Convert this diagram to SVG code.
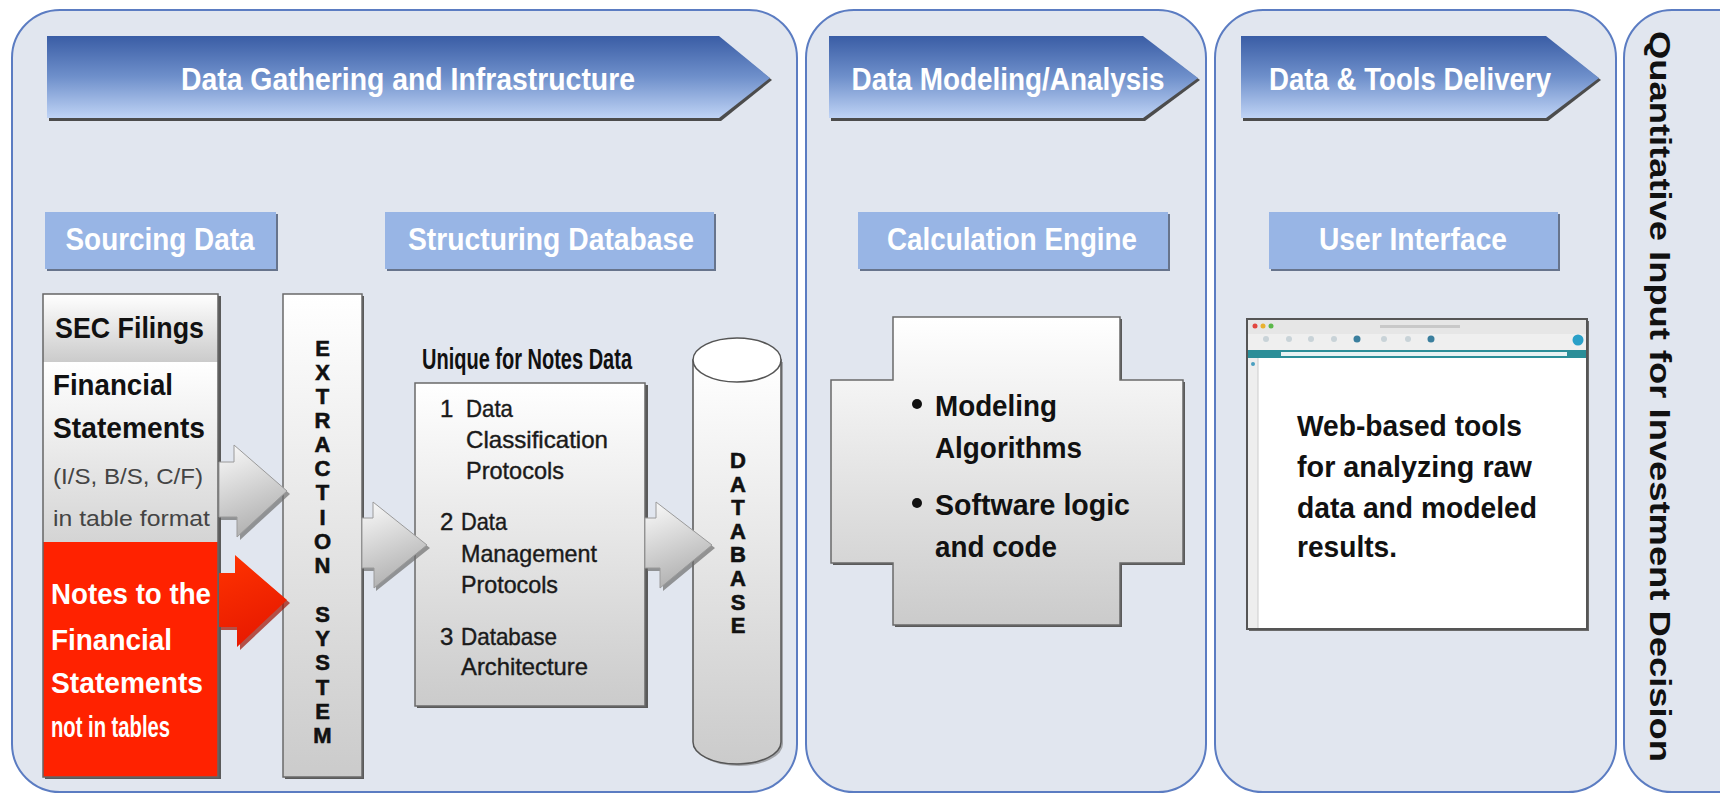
<svg xmlns="http://www.w3.org/2000/svg" width="1720" height="796" viewBox="0 0 1720 796">
<defs>
  <linearGradient id="gBanner" x1="0" y1="0" x2="0" y2="1">
    <stop offset="0" stop-color="#3a5da5"/>
    <stop offset="0.5" stop-color="#6f90cb"/>
    <stop offset="1" stop-color="#bfd3f5"/>
  </linearGradient>
  <linearGradient id="gGray" x1="0" y1="0" x2="0" y2="1">
    <stop offset="0" stop-color="#ffffff"/>
    <stop offset="1" stop-color="#cbcbcb"/>
  </linearGradient>
  <linearGradient id="gGrayS" x1="0" y1="0" x2="0" y2="1">
    <stop offset="0" stop-color="#ffffff"/>
    <stop offset="1" stop-color="#d4d4d4"/>
  </linearGradient>
  <linearGradient id="gArrow" x1="0" y1="0" x2="0.3" y2="1">
    <stop offset="0" stop-color="#fbfbfb"/>
    <stop offset="1" stop-color="#b2b2b2"/>
  </linearGradient>
  <linearGradient id="gRed" x1="0" y1="0" x2="0.3" y2="1">
    <stop offset="0" stop-color="#ff3300"/>
    <stop offset="1" stop-color="#e81a00"/>
  </linearGradient>
</defs>
<style>
  .panel{fill:#e1e6ef;stroke:#5b7cc2;stroke-width:2}
  .banner{fill:url(#gBanner)}
  .bsh{fill:#4c4c4c}
  .sub{fill:#98b5e5}
  .subsh{fill:#67748c}
  .box{fill:url(#gGray);stroke:#6a6a6a;stroke-width:1.5}
  .sh{fill:#5a5a5a}
  .wt{font-family:"Liberation Sans Narrow","Liberation Sans",Arial,sans-serif;font-weight:bold;fill:#ffffff;font-size:31px}
  .bk{font-family:"Liberation Sans",Arial,sans-serif;font-weight:bold;fill:#111111;font-size:30px}
  .rg{font-family:"Liberation Sans",Arial,sans-serif;fill:#1a1a1a;font-size:24px;stroke:#1a1a1a;stroke-width:0.4}
  .sm{font-family:"Liberation Sans",Arial,sans-serif;fill:#444444;font-size:22px}
  .wb{font-family:"Liberation Sans",Arial,sans-serif;font-weight:bold;fill:#ffffff;font-size:30px}
  .vl{font-family:"Liberation Sans",Arial,sans-serif;font-weight:bold;fill:#111111;font-size:22px;text-anchor:middle;stroke:#111111;stroke-width:0.6}
  .arr{fill:url(#gArrow);stroke:#9a9a9a;stroke-width:1}
  .arrsh{fill:#6e6e6e;opacity:0.7}
</style>

<g id="panels">
  <rect class="panel" x="12" y="10" width="785" height="782" rx="48"/>
  <rect class="panel" x="806" y="10" width="400" height="782" rx="48"/>
  <rect class="panel" x="1215" y="10" width="401" height="782" rx="48"/>
  <rect class="panel" x="1624" y="10" width="150" height="782" rx="48"/>
</g>

<g id="banner-gathering">
  <polygon class="bsh" points="49,39 721,39 772,80 721,121 49,121"/>
  <polygon class="banner" points="47,36 719,36 770,78 719,118 47,118"/>
  <text class="wt" x="408" y="90" text-anchor="middle" textLength="454" lengthAdjust="spacingAndGlyphs">Data Gathering and Infrastructure</text>
</g>
<g id="banner-modeling">
  <polygon class="bsh" points="831,39 1145,39 1200,80 1145,121 831,121"/>
  <polygon class="banner" points="829,36 1143,36 1198,78 1143,118 829,118"/>
  <text class="wt" x="1008" y="90" text-anchor="middle" textLength="313" lengthAdjust="spacingAndGlyphs">Data Modeling/Analysis</text>
</g>
<g id="banner-delivery">
  <polygon class="bsh" points="1243,39 1548,39 1601,80 1548,121 1243,121"/>
  <polygon class="banner" points="1241,36 1546,36 1599,78 1546,118 1241,118"/>
  <text class="wt" x="1410" y="90" text-anchor="middle" textLength="282" lengthAdjust="spacingAndGlyphs">Data &amp; Tools Delivery</text>
</g>

<g id="sub-sourcing">
  <rect class="subsh" x="47" y="214" width="231" height="57"/>
  <rect class="sub" x="45" y="212" width="231" height="57"/>
  <text class="wt" x="160" y="250" text-anchor="middle" textLength="189" lengthAdjust="spacingAndGlyphs">Sourcing Data</text>
</g>
<g id="sub-structuring">
  <rect class="subsh" x="387" y="214" width="329" height="57"/>
  <rect class="sub" x="385" y="212" width="329" height="57"/>
  <text class="wt" x="551" y="250" text-anchor="middle" textLength="286" lengthAdjust="spacingAndGlyphs">Structuring Database</text>
</g>
<g id="sub-calculation">
  <rect class="subsh" x="860" y="214" width="310" height="57"/>
  <rect class="sub" x="858" y="212" width="310" height="57"/>
  <text class="wt" x="1012" y="250" text-anchor="middle" textLength="250" lengthAdjust="spacingAndGlyphs">Calculation Engine</text>
</g>
<g id="sub-ui">
  <rect class="subsh" x="1271" y="214" width="289" height="57"/>
  <rect class="sub" x="1269" y="212" width="289" height="57"/>
  <text class="wt" x="1413" y="250" text-anchor="middle" textLength="188" lengthAdjust="spacingAndGlyphs">User Interface</text>
</g>

<g id="sec-filings">
  <rect class="sh" x="45" y="296" width="176" height="483"/>
  <rect x="43" y="294" width="175" height="68" fill="url(#gGray)"/>
  <rect x="43" y="362" width="175" height="180" fill="url(#gGrayS)"/>
  <rect x="43" y="542" width="175" height="235" fill="#ff2200"/>
  <rect x="43" y="294" width="175" height="483" fill="none" stroke="#666666" stroke-width="1.5"/>
  <text class="bk" x="55" y="338" font-size="31" textLength="149" lengthAdjust="spacingAndGlyphs">SEC Filings</text>
  <text class="bk" x="53" y="395" textLength="120" lengthAdjust="spacingAndGlyphs">Financial</text>
  <text class="bk" x="53" y="438" textLength="152" lengthAdjust="spacingAndGlyphs">Statements</text>
  <text class="sm" x="53" y="484" textLength="150" lengthAdjust="spacingAndGlyphs">(I/S, B/S, C/F)</text>
  <text class="sm" x="53" y="526" textLength="157" lengthAdjust="spacingAndGlyphs">in table format</text>
  <text class="wb" x="51" y="604" textLength="160" lengthAdjust="spacingAndGlyphs">Notes to the</text>
  <text class="wb" x="51" y="650" textLength="121" lengthAdjust="spacingAndGlyphs">Financial</text>
  <text class="wb" x="51" y="693" textLength="152" lengthAdjust="spacingAndGlyphs">Statements</text>
  <text class="wb" x="51" y="737" font-size="21" textLength="119" lengthAdjust="spacingAndGlyphs">not in tables</text>
</g>

<g id="extraction-system">
  <rect class="sh" x="285" y="296" width="79" height="483"/>
  <rect class="box" x="283" y="294" width="79" height="483"/>
  <text class="vl" x="322.5" y="356">E</text>
  <text class="vl" x="322.5" y="380">X</text>
  <text class="vl" x="322.5" y="404">T</text>
  <text class="vl" x="322.5" y="428">R</text>
  <text class="vl" x="322.5" y="452">A</text>
  <text class="vl" x="322.5" y="476">C</text>
  <text class="vl" x="322.5" y="500">T</text>
  <text class="vl" x="322.5" y="525">I</text>
  <text class="vl" x="322.5" y="549">O</text>
  <text class="vl" x="322.5" y="573">N</text>
  <text class="vl" x="322.5" y="622">S</text>
  <text class="vl" x="322.5" y="646">Y</text>
  <text class="vl" x="322.5" y="670">S</text>
  <text class="vl" x="322.5" y="695">T</text>
  <text class="vl" x="322.5" y="719">E</text>
  <text class="vl" x="322.5" y="743">M</text>
</g>

<g id="notes-protocols">
  <text class="bk" x="422" y="369" font-size="22" fill="#222" textLength="210" lengthAdjust="spacingAndGlyphs">Unique for Notes Data</text>
  <rect class="sh" x="417" y="385" width="231" height="323"/>
  <rect class="box" x="415" y="383" width="230" height="323"/>
  <text class="rg" x="440" y="417">1</text>
  <text class="rg" x="466" y="417" textLength="47" lengthAdjust="spacingAndGlyphs">Data</text>
  <text class="rg" x="466" y="448" textLength="142" lengthAdjust="spacingAndGlyphs">Classification</text>
  <text class="rg" x="466" y="479" textLength="98" lengthAdjust="spacingAndGlyphs">Protocols</text>
  <text class="rg" x="440" y="530">2</text>
  <text class="rg" x="461" y="530" textLength="46" lengthAdjust="spacingAndGlyphs">Data</text>
  <text class="rg" x="461" y="562" textLength="136" lengthAdjust="spacingAndGlyphs">Management</text>
  <text class="rg" x="461" y="593" textLength="97" lengthAdjust="spacingAndGlyphs">Protocols</text>
  <text class="rg" x="440" y="645">3</text>
  <text class="rg" x="461" y="645" textLength="96" lengthAdjust="spacingAndGlyphs">Database</text>
  <text class="rg" x="461" y="675" textLength="127" lengthAdjust="spacingAndGlyphs">Architecture</text>
</g>

<g id="database">
  <path d="M695,362 L695,744 A44,22 0 0 0 783,744 L783,362 Z" fill="#7a7a7a" opacity="0.6"/>
  <path d="M693,360 L693,742 A44,22 0 0 0 781,742 L781,360 Z" fill="url(#gGray)" stroke="#555555" stroke-width="1.5"/>
  <ellipse cx="737" cy="360" rx="44" ry="22" fill="#ffffff" stroke="#555555" stroke-width="1.5"/>
  <text class="vl" x="738" y="468">D</text>
  <text class="vl" x="738" y="492">A</text>
  <text class="vl" x="738" y="515">T</text>
  <text class="vl" x="738" y="539">A</text>
  <text class="vl" x="738" y="562">B</text>
  <text class="vl" x="738" y="586">A</text>
  <text class="vl" x="738" y="610">S</text>
  <text class="vl" x="738" y="633">E</text>
</g>

<g id="calculation-engine">
  <polygon class="sh" points="895,319 1122,319 1122,382 1185,382 1185,565 1122,565 1122,627 895,627 895,565 833,565 833,382 895,382"/>
  <polygon class="box" points="893,317 1120,317 1120,380 1183,380 1183,563 1120,563 1120,625 893,625 893,563 831,563 831,380 893,380"/>
  <circle cx="917" cy="404" r="5" fill="#111"/>
  <text class="bk" x="935" y="416" textLength="122" lengthAdjust="spacingAndGlyphs">Modeling</text>
  <text class="bk" x="935" y="458" textLength="147" lengthAdjust="spacingAndGlyphs">Algorithms</text>
  <circle cx="917" cy="503" r="5" fill="#111"/>
  <text class="bk" x="935" y="515" textLength="195" lengthAdjust="spacingAndGlyphs">Software logic</text>
  <text class="bk" x="935" y="557" textLength="122" lengthAdjust="spacingAndGlyphs">and code</text>
</g>

<g id="user-interface">
  <rect x="1249" y="321" width="340" height="310" fill="#6a6a6a"/>
  <rect x="1247" y="319" width="340" height="310" fill="#ffffff" stroke="#555555" stroke-width="2"/>
  <rect x="1248" y="320" width="338" height="14" fill="#e6e6e6"/>
  <rect x="1248" y="334" width="338" height="16" fill="#efefef"/>
  <rect x="1248" y="350" width="338" height="8" fill="#2b8e98"/>
  <rect x="1281" y="352" width="286" height="4" fill="#e8f2f3"/>
  <rect x="1248" y="358" width="10" height="270" fill="#eeeeee"/>
  <line x1="1258" y1="358" x2="1258" y2="628" stroke="#cccccc" stroke-width="1"/>
  <circle cx="1255" cy="326" r="2.5" fill="#e2463f"/>
  <circle cx="1263" cy="326" r="2.5" fill="#e9b12f"/>
  <circle cx="1271" cy="326" r="2.5" fill="#5bb84a"/>
  <rect x="1380" y="325" width="80" height="3" fill="#c8c8c8"/>
  <g fill="#c9d3d8">
    <circle cx="1266" cy="339" r="3"/>
    <circle cx="1289" cy="339" r="3"/>
    <circle cx="1311" cy="339" r="3"/>
    <circle cx="1334" cy="339" r="3"/>
    <circle cx="1384" cy="339" r="3"/>
    <circle cx="1408" cy="339" r="3"/>
  </g>
  <circle cx="1357" cy="339" r="3.5" fill="#3b7f9e"/>
  <circle cx="1431" cy="339" r="3.5" fill="#3b7f9e"/>
  <circle cx="1578" cy="340" r="5.5" fill="#2aa0c8"/>
  <circle cx="1253" cy="364" r="2" fill="#4a9fc0"/>
  <text class="bk" x="1297" y="436" textLength="225" lengthAdjust="spacingAndGlyphs">Web-based tools</text>
  <text class="bk" x="1297" y="477" textLength="235" lengthAdjust="spacingAndGlyphs">for analyzing raw</text>
  <text class="bk" x="1297" y="518" textLength="240" lengthAdjust="spacingAndGlyphs">data and modeled</text>
  <text class="bk" x="1297" y="557" textLength="100" lengthAdjust="spacingAndGlyphs">results.</text>
</g>

<g id="investment-decision">
  <text class="bk" font-size="35" transform="translate(1650,31) rotate(90)" x="0" y="0" textLength="731" lengthAdjust="spacingAndGlyphs">Quantitative Input for Investment Decision</text>
</g>

<g id="connectors">
  <polygon class="arrsh" points="221,465 236,465 236,448 290,494 240,540 240,520 221,520"/>
  <polygon class="arr" points="219,462 234,462 234,445 287,491 237,537 237,517 219,517"/>
  <polygon fill="#a01000" opacity="0.7" points="221,576 237,576 237,558 290,603 240,650 240,630 221,630"/>
  <polygon fill="url(#gRed)" points="219,573 235,573 235,555 287,600 237,647 237,627 219,627"/>
  <polygon class="arrsh" points="364,521 375,521 375,505 430,548 376,591 376,571 364,571"/>
  <polygon class="arr" points="362,518 373,518 373,502 427,545 374,588 374,568 362,568"/>
  <polygon class="arrsh" points="647,521 658,521 658,505 715,548 663,591 663,571 647,571"/>
  <polygon class="arr" points="645,518 656,518 656,502 712,545 660,588 660,568 645,568"/>
</g>
</svg>
